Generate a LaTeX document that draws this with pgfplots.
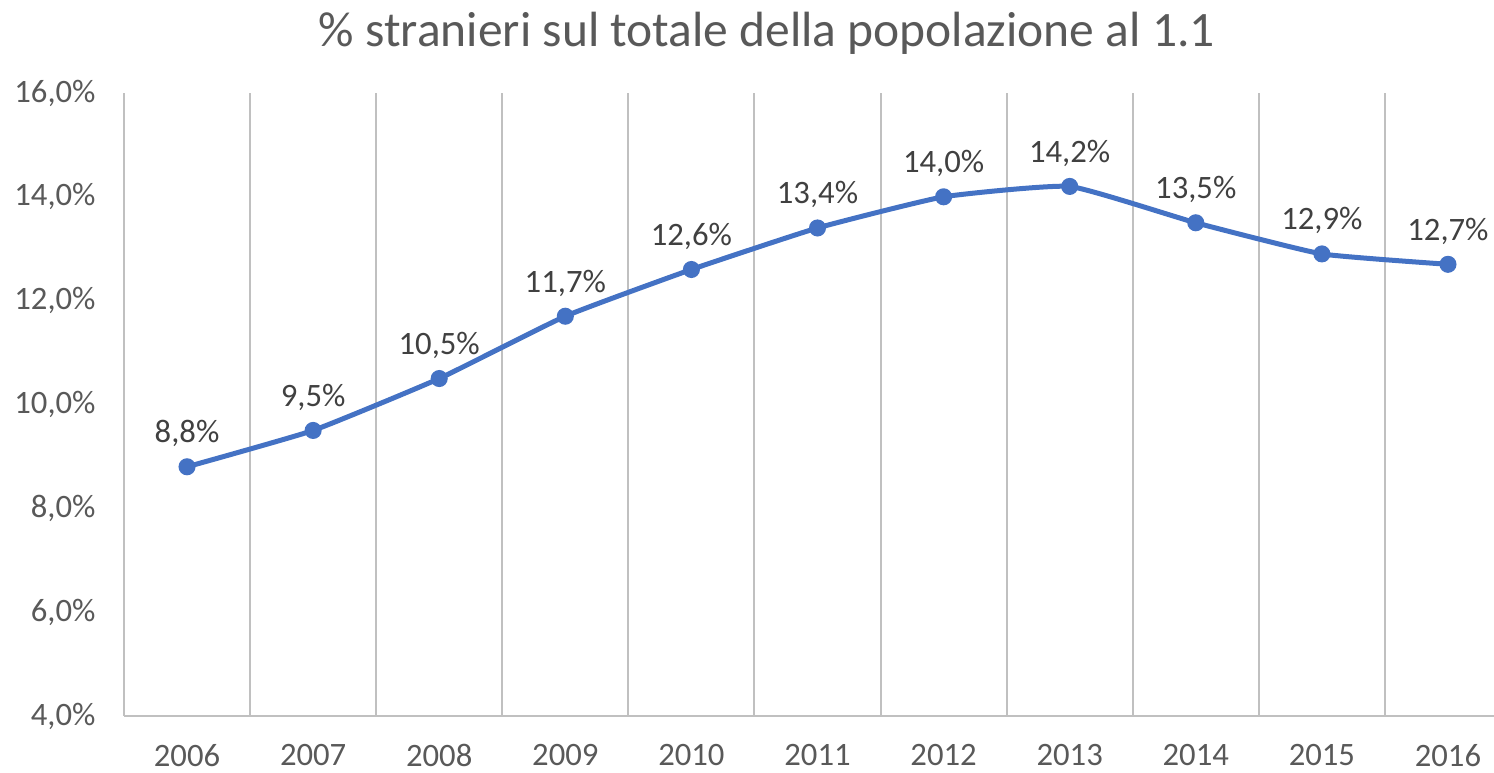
\documentclass[border=0pt]{standalone}
\usepackage{pgfplots}
\pgfplotsset{compat=1.18}
\usepackage{fontspec}
\setmainfont{Carlito}
\definecolor{serie}{HTML}{4472C4}
\definecolor{testo}{HTML}{595959}
\definecolor{etich}{HTML}{404040}
\definecolor{griglia}{HTML}{C0C0C0}
\begin{document}
\begin{tikzpicture}
\begin{axis}[
    at={(0,0)}, anchor=south west,
    scale only axis,
    width=411pt, height=186.9pt,
    xmin=-0.5, xmax=10.365,
    ymin=4, ymax=16,
    ytick distance=2,
    xtick={0,...,10},
    xticklabels={2006,2007,2008,2009,2010,2011,2012,2013,2014,2015,2016},
    minor xtick={-0.5,0.5,...,9.5},
    minor x grid style={griglia, line width=0.6pt},
    xminorgrids,
    major tick length=0pt, minor tick length=0pt,
    axis line style={draw=none},
    /pgf/number format/assume math mode=true,
    tick label style={font=\fontsize{9.8}{11}\selectfont, text=testo},
    yticklabel={\pgfmathprintnumber[fixed,fixed zerofill,precision=1,use comma]{\tick}\%},
    yticklabel style={xshift=-5pt},
    xticklabel style={yshift=-5pt},
    clip=false,
    nodes near coords={\pgfmathprintnumber[fixed,fixed zerofill,precision=1,use comma]{\pgfplotspointmeta}\%},
    every node near coord/.style={anchor=base, yshift=7.2pt, font=\fontsize{9.8}{11}\selectfont, text=etich},
]
\draw[griglia, line width=0.6pt] (rel axis cs:0,0) -- (rel axis cs:1,0);
\addplot[color=serie, line width=1.5pt, smooth, tension=0.25, mark=*, mark size=1.8pt,
    mark options={fill=serie, draw=serie}] coordinates {
    (0, 8.8)
    (1, 9.5)
    (2, 10.5)
    (3, 11.7)
    (4, 12.6)
    (5, 13.4)
    (6, 14.0)
    (7, 14.2)
    (8, 13.5)
    (9, 12.9)
    (10, 12.7)
};
\end{axis}
\node[text=testo, font=\fontsize{14.85}{18}\selectfont] at (192.9pt,204.9pt) {\% stranieri sul totale della popolazione al 1.1};
\pgfresetboundingbox
\useasboundingbox (-37.2pt,-17.1pt) rectangle (411pt,214.8pt);
\end{tikzpicture}
\end{document}
